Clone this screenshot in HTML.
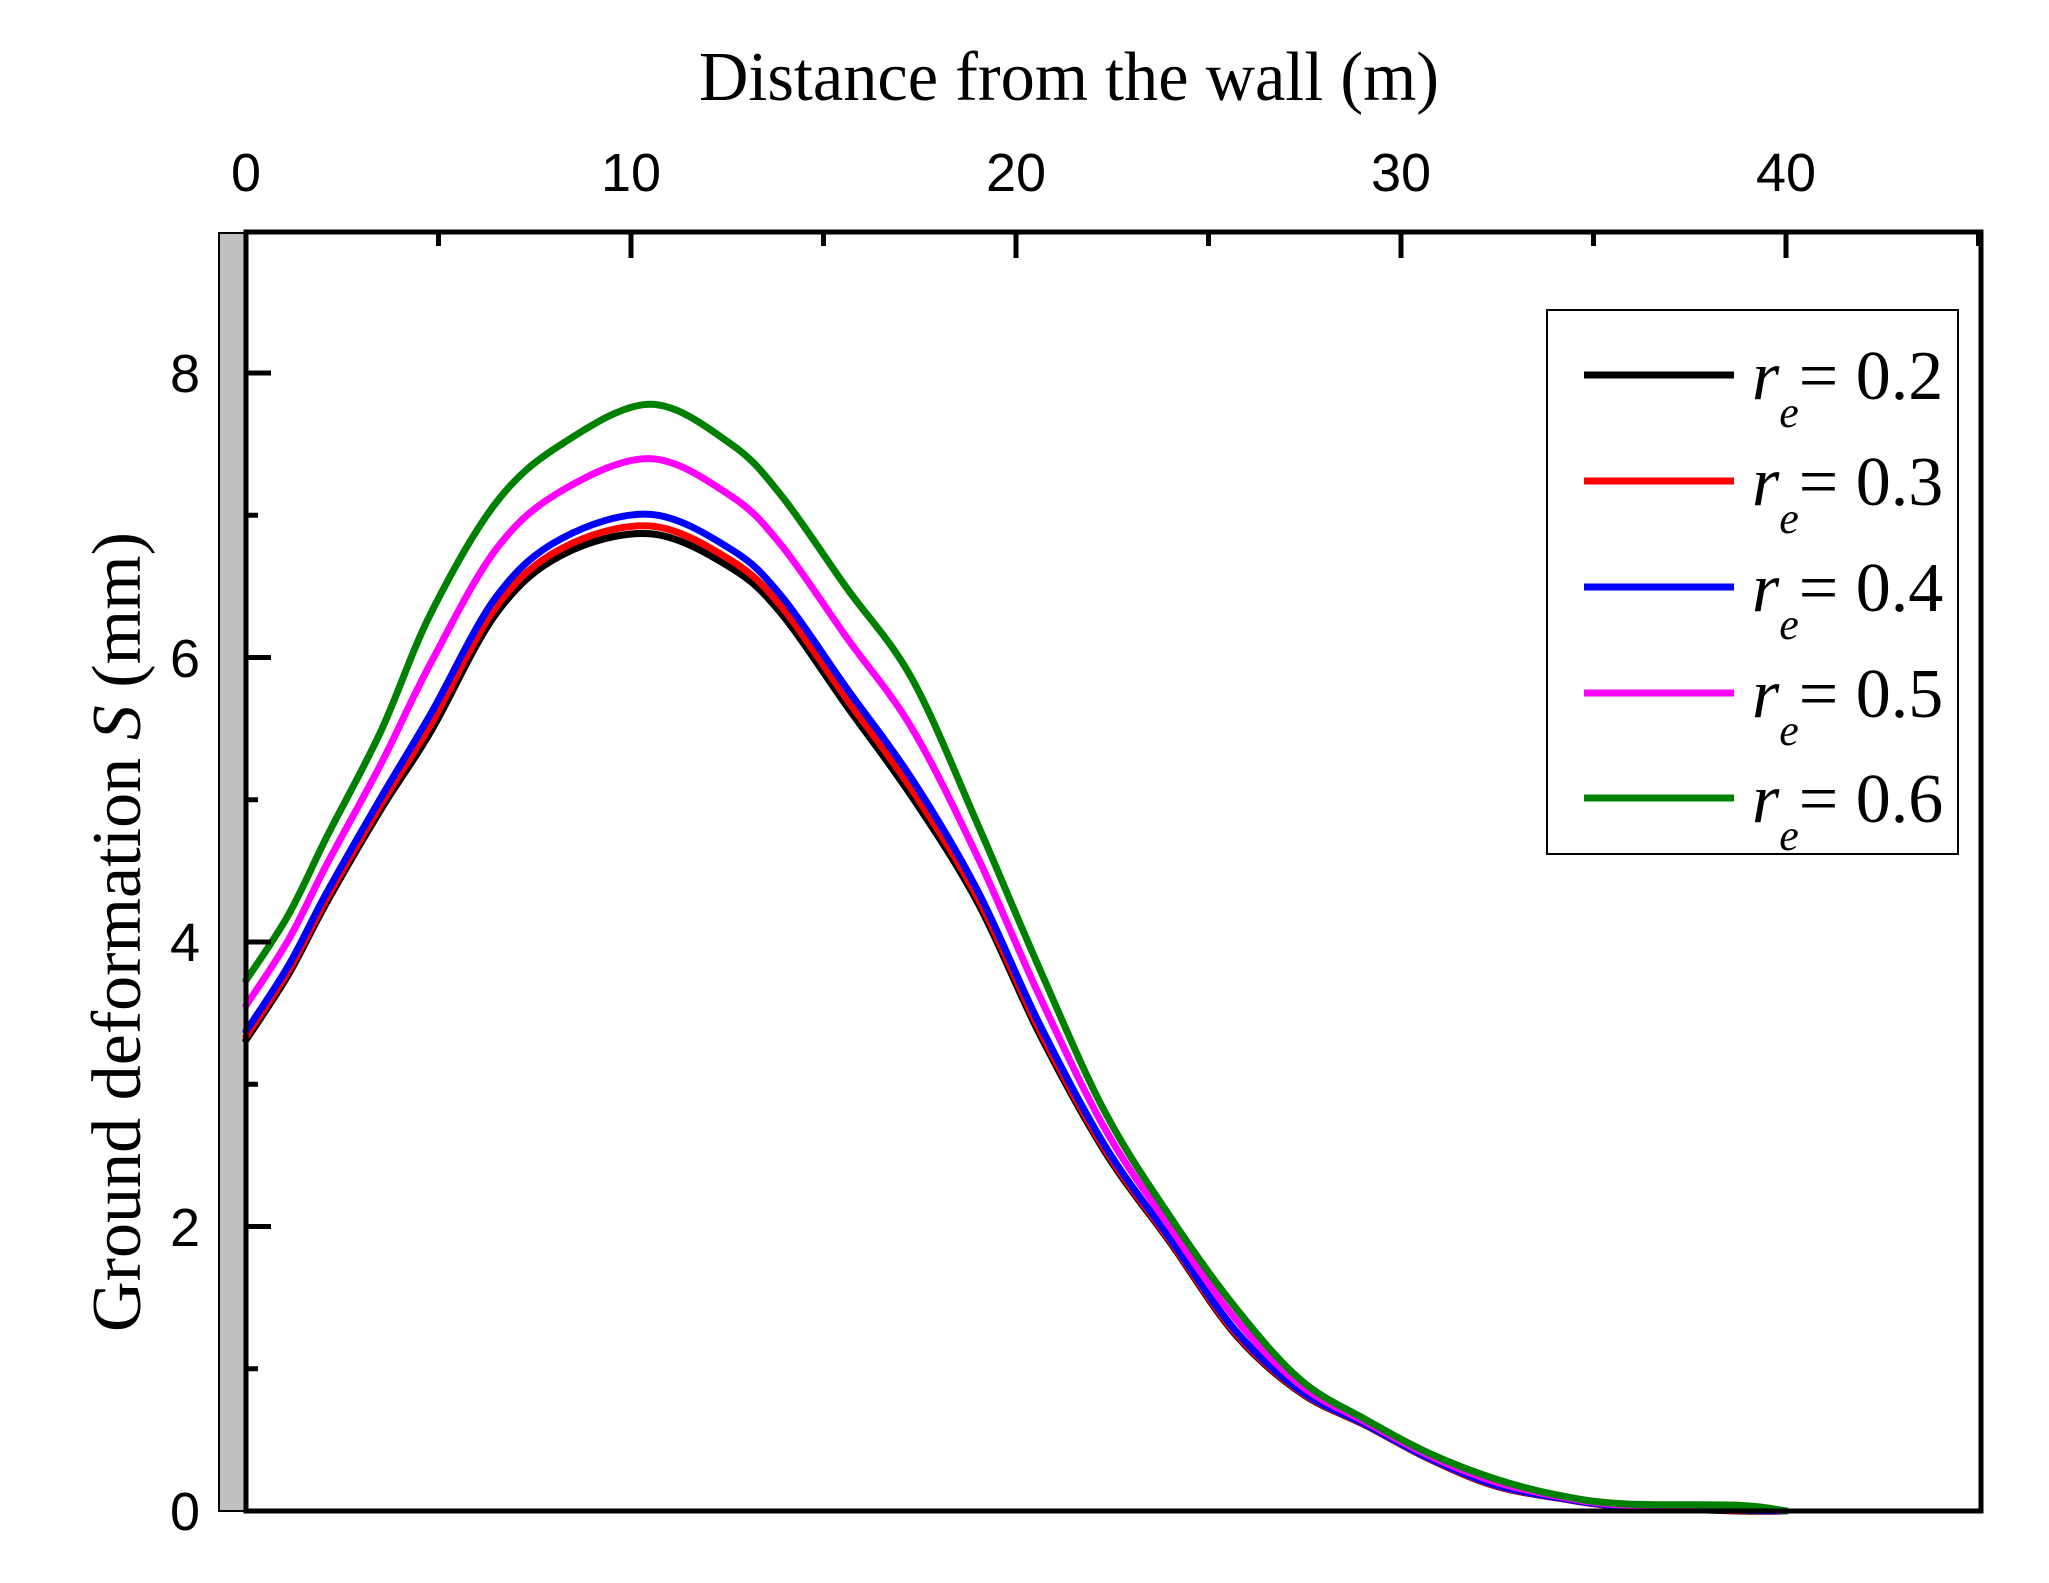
<!DOCTYPE html>
<html><head><meta charset="utf-8"><style>
html,body{margin:0;padding:0;background:#fff;}
svg{display:block;}
</style></head><body>
<svg id="s" width="2049" height="1583" viewBox="0 0 2049 1583" xmlns="http://www.w3.org/2000/svg">
<rect width="2049" height="1583" fill="#fff"/>
<rect x="219" y="233" width="27" height="1278" fill="#c0c0c0" stroke="#000" stroke-width="2"/>
<g id="curves" fill="none" stroke-width="7" stroke-linejoin="round" stroke-linecap="round"></g>
<rect x="246" y="232" width="1735" height="1279" fill="none" stroke="#000" stroke-width="5"/>
<g stroke="#000" stroke-width="5" id="ticks"></g>
<g font-family="Liberation Sans, sans-serif" font-size="54" text-anchor="middle" fill="#000">
<text x="246" y="191">0</text><text x="631" y="191">10</text><text x="1016" y="191">20</text><text x="1401" y="191">30</text><text x="1786" y="191">40</text>
<text x="185" y="1530">0</text><text x="185" y="1246">2</text><text x="185" y="961">4</text><text x="185" y="677">6</text><text x="185" y="392">8</text>
</g>
<text x="1069" y="100" font-family="Liberation Serif, serif" font-size="70" text-anchor="middle" textLength="740" lengthAdjust="spacingAndGlyphs">Distance from the wall (m)</text>
<text transform="translate(140,932) rotate(-90)" font-family="Liberation Serif, serif" font-size="70" text-anchor="middle" textLength="800" lengthAdjust="spacingAndGlyphs">Ground deformation <tspan font-style="italic">S</tspan> (mm)</text>
<rect x="1547" y="310" width="411" height="544" fill="#fff" stroke="#000" stroke-width="2"/>
<g stroke-width="7">
<line x1="1584" y1="375" x2="1734" y2="375" stroke="#000"/>
<line x1="1584" y1="481" x2="1734" y2="481" stroke="#f00"/>
<line x1="1584" y1="587" x2="1734" y2="587" stroke="#00f"/>
<line x1="1584" y1="693" x2="1734" y2="693" stroke="#f0f"/>
<line x1="1584" y1="798" x2="1734" y2="798" stroke="#008000"/>
</g>
<g font-family="Liberation Serif, serif" font-size="70" fill="#000">
<text x="1752" y="399"><tspan font-style="italic">r</tspan><tspan font-style="italic" font-size="44" dy="28">e</tspan><tspan dy="-28">= 0.2</tspan></text>
<text x="1752" y="505"><tspan font-style="italic">r</tspan><tspan font-style="italic" font-size="44" dy="28">e</tspan><tspan dy="-28">= 0.3</tspan></text>
<text x="1752" y="611"><tspan font-style="italic">r</tspan><tspan font-style="italic" font-size="44" dy="28">e</tspan><tspan dy="-28">= 0.4</tspan></text>
<text x="1752" y="717"><tspan font-style="italic">r</tspan><tspan font-style="italic" font-size="44" dy="28">e</tspan><tspan dy="-28">= 0.5</tspan></text>
<text x="1752" y="822"><tspan font-style="italic">r</tspan><tspan font-style="italic" font-size="44" dy="28">e</tspan><tspan dy="-28">= 0.6</tspan></text>
</g>
</svg>
<script>
var X=function(v){return 246+38.5*v}, Y=function(s){return 1511-142.25*s};
var t=document.getElementById('ticks'), h='';
for(var i=0;i<=45;i+=5){var x=X(i);if(i==0)continue;h+='<line x1="'+x+'" y1="232" x2="'+x+'" y2="'+(i%10==0?258:246)+'"/>';}
for(var j=1;j<9;j++){var y=Y(j);h+='<line x1="246" y1="'+y+'" x2="'+(j%2==0?271:258)+'" y2="'+y+'"/>';}
t.innerHTML=h;
var B=[[0,3.31],[1.1,3.77],[2.1,4.28],[3.5,4.93],[4.8,5.48],[6.5,6.31],[8.2,6.72],[10.5,6.87],[12.6,6.63],[13.9,6.31],[15.6,5.66],[17.3,5.02],[19,4.28],[20.6,3.36],[22.3,2.53],[24,1.89],[25.7,1.24],[27.4,0.83],[29.1,0.6],[30.7,0.37],[32.4,0.18],[34.1,0.09],[35.8,0.03],[38.8,0.0],[40,0]];
var G=[[0,3.73],[1.1,4.19],[2.1,4.74],[3.5,5.48],[4.8,6.31],[6.5,7.09],[8.2,7.5],[10.5,7.78],[12.6,7.5],[13.9,7.14],[15.6,6.49],[17.3,5.85],[19,4.83],[20.6,3.82],[22.3,2.81],[24,2.07],[25.7,1.43],[27.4,0.92],[29.1,0.64],[30.7,0.41],[32.4,0.23],[34.1,0.11],[35.8,0.05],[38.8,0.04],[40,0]];
function path(P){var d='M'+X(P[0][0])+','+Y(P[0][1]);
for(var i=0;i<P.length-1;i++){var p0=P[Math.max(i-1,0)],p1=P[i],p2=P[i+1],p3=P[Math.min(i+2,P.length-1)];
var c1x=X(p1[0])+(X(p2[0])-X(p0[0]))/6,c1y=Y(p1[1])+(Y(p2[1])-Y(p0[1]))/6,c2x=X(p2[0])-(X(p3[0])-X(p1[0]))/6,c2y=Y(p2[1])-(Y(p3[1])-Y(p1[1]))/6;
d+=' C'+c1x+','+c1y+' '+c2x+','+c2y+' '+X(p2[0])+','+Y(p2[1]);}return d;}
var cs=[['#000',0],['#f00',0.06],['#00f',0.15],['#f0f',0.58],['#008000',1]],g=document.getElementById('curves'),o='';
cs.forEach(function(c){var P=B.map(function(p,k){return [p[0],p[1]+c[1]*(G[k][1]-p[1])]});o+='<path stroke="'+c[0]+'" d="'+path(P)+'"/>';});
g.innerHTML=o;
</script>
</body></html>
